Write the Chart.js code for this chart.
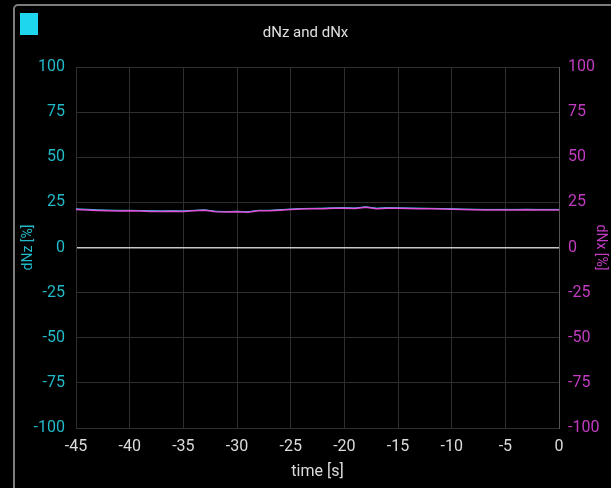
<!DOCTYPE html>
<html><head><meta charset="utf-8">
<script src="https://cdn.jsdelivr.net/npm/chart.js@4"></script>
<style>
html,body{margin:0;padding:0;background:#000;width:611px;height:488px;overflow:hidden}
#frame{position:absolute;left:13px;top:4px;width:640px;height:520px;border:2px solid #7c7c7c;border-radius:5px;box-sizing:border-box}
#wrap{position:absolute;left:0;top:0;width:611px;height:488px}
</style></head>
<body>
<div id="frame"></div>
<div id="wrap"><canvas id="c" width="611" height="488"></canvas></div>
<script>
const times = [-45,-44,-43,-42,-41,-40,-39,-38,-37,-36,-35,-34,-33,-32,-31,-30,-29,-28,-27,-26,-25,-24,-23,-22,-21,-20,-19,-18,-17,-16,-15,-14,-13,-12,-11,-10,-9,-8,-7,-6,-5,-4,-3,-2,-1,0];
const dNz = [21.4,21.2,20.9,20.7,20.6,20.6,20.5,20.4,20.3,20.4,20.3,20.6,20.9,20.1,19.9,20.1,19.8,20.6,20.6,21.0,21.3,21.6,21.7,21.8,22.0,22.1,21.9,22.6,21.8,22.1,22.0,21.9,21.8,21.7,21.6,21.5,21.3,21.2,21.1,21.1,21.1,21.1,21.2,21.1,21.1,21.1];
const dNx = [21.0,20.8,20.5,20.3,20.2,20.3,20.2,20.0,20.0,20.1,20.0,20.3,20.6,19.8,19.6,19.8,19.5,20.3,20.3,20.7,21.0,21.3,21.4,21.5,21.7,21.8,21.6,22.3,21.5,21.8,21.7,21.6,21.5,21.4,21.3,21.2,21.0,20.9,20.8,20.8,20.8,20.8,20.9,20.8,20.8,20.8];
const chartTitle = 'dNz and dNx';
const xTitle = 'time [s]';
const yTitleLeft = 'dNz [%]';
const yTitleRight = 'dNx [%]';

const CYAN = '#1fd6ef';
const CYAN_TXT = '#22b9c9';
const MAG = '#e050d8';
const MAG_TXT = '#c23cc2';
const GRID = '#2e2e2e';
const FONT = 'Roboto';

const boxPlugin = {
  id: 'legendBox',
  afterDraw(chart) {
    const ctx = chart.ctx;
    ctx.save();
    ctx.fillStyle = chart.data.datasets[0].borderColor;
    ctx.fillRect(20, 13, 18, 22);
    ctx.restore();
  }
};

new Chart(document.getElementById('c'), {
  type: 'line',
  data: {
    datasets: [
      { label: 'dNz', data: times.map((t, i) => ({x: t, y: dNz[i]})), borderColor: CYAN, backgroundColor: CYAN, borderWidth: 1, pointRadius: 0, yAxisID: 'y', order: 2 },
      { label: 'dNx', data: times.map((t, i) => ({x: t, y: dNx[i]})), borderColor: MAG, backgroundColor: MAG, borderWidth: 1.5, pointRadius: 0, yAxisID: 'y2', order: 1 }
    ]
  },
  options: {
    responsive: false,
    animation: false,
    devicePixelRatio: 1,
    layout: { padding: 0 },
    plugins: {
      legend: { display: false },
      tooltip: { enabled: false },
      title: { display: true, text: chartTitle, color: '#e0e0e0', font: { family: FONT, size: 15, weight: 'normal' }, padding: { top: 24, bottom: 25 } }
    },
    scales: {
      x: {
        type: 'linear', min: -45, max: 0,
        ticks: { stepSize: 5, color: '#dcdcdc', font: { family: FONT, size: 16 }, padding: 9, maxRotation: 0, autoSkip: false },
        grid: { color: GRID, drawTicks: false },
        border: { color: GRID },
        title: { display: true, text: xTitle, color: '#dcdcdc', font: { family: FONT, size: 16 }, padding: { top: 0, bottom: 6 } },
        afterFit(s) { s.height = 60; }
      },
      y: {
        position: 'left', min: -100, max: 100,
        ticks: { stepSize: 25, color: CYAN_TXT, font: { family: FONT, size: 16 }, padding: 11 },
        grid: { color: ctx => (ctx.tick && ctx.tick.value === 0) ? '#c8c8c8' : GRID, lineWidth: ctx => (ctx.tick && ctx.tick.value === 0) ? 1.5 : 1, drawTicks: false },
        border: { color: GRID },
        title: { display: true, text: yTitleLeft, color: CYAN_TXT, font: { family: FONT, size: 14 }, padding: { top: 20, bottom: 0 } },
        afterFit(s) { s.width = 76; }
      },
      y2: {
        position: 'right', min: -100, max: 100,
        ticks: { stepSize: 25, color: MAG_TXT, font: { family: FONT, size: 16 }, padding: 9 },
        grid: { drawOnChartArea: false, drawTicks: false },
        border: { color: '#555' },
        title: { display: true, text: yTitleRight, color: MAG_TXT, font: { family: FONT, size: 14 }, padding: { top: 2, bottom: 0 } },
        afterFit(s) { s.width = 52; }
      }
    }
  },
  plugins: [boxPlugin]
});
</script>
</body></html>
